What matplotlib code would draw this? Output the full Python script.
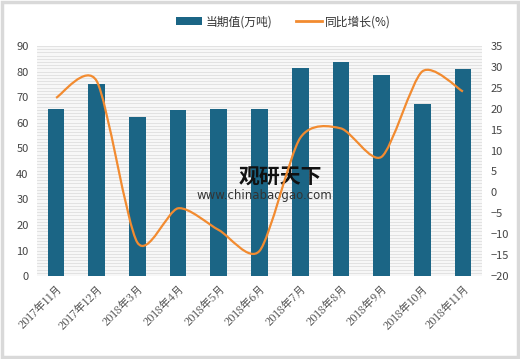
import matplotlib
matplotlib.use("Agg")
import matplotlib.pyplot as plt
from matplotlib.path import Path
from matplotlib.patches import PathPatch, Rectangle, Patch
from matplotlib.lines import Line2D
import numpy as np

plt.rcParams['font.family'] = ['Noto Sans CJK SC', 'DejaVu Sans']

categories = ["2017年11月", "2017年12月", "2018年3月", "2018年4月", "2018年5月", "2018年6月",
              "2018年7月", "2018年8月", "2018年9月", "2018年10月", "2018年11月"]
volume = [65.2, 75.1, 62.3, 64.8, 65.2, 65.2, 81.3, 83.8, 78.5, 67.3, 80.9]
growth = [22.6, 26.6, -12.0, -3.8, -9.0, -14.0, 13.0, 15.3, 8.5, 28.9, 24.1]
left_ticks = list(range(0, 91, 10))
right_ticks = list(range(-20, 36, 5))

bar_color = "#1b6585"
line_color = "#f28b30"
text_color = "#444444"

fig = plt.figure(figsize=(5.2, 3.59), dpi=100)
fig.patches.append(Rectangle((0.004, 0.006), 0.992, 0.988, transform=fig.transFigure,
                             facecolor="none", edgecolor="#d9d9d9", lw=2.5))
ax = fig.add_axes([0.071, 0.231, 0.856, 0.641])
ax2 = ax.twinx()

x = np.arange(len(categories))
ax.bar(x, volume, width=0.41, color=bar_color, zorder=3)
ax.set_xlim(-0.47, len(categories) - 0.53)
ax.set_ylim(0, 90)
ax.set_yticks(left_ticks)
ax.set_xticks(x)
ax.set_xticklabels(categories, rotation=45, ha="right", rotation_mode="anchor",
                   fontsize=8.5, color=text_color, family=['Noto Serif CJK SC', 'Noto Sans CJK SC', 'DejaVu Serif'])
ax.tick_params(axis="both", length=0, colors=text_color, labelsize=8)
ax.tick_params(axis="x", pad=5)
ax.tick_params(axis="y", pad=6)
for s in ax.spines.values():
    s.set_visible(False)
ax.set_facecolor("#f7f7f7")
for yv in np.arange(0.0, 90.1, 1.25):
    ax.axhline(yv, color="#dedede", lw=0.6, zorder=1)

ax2.set_ylim(-20, 35)
ax2.set_yticks(right_ticks)
ax2.set_yticklabels([str(t).replace('-', '\u2212') for t in right_ticks])
ax2.tick_params(axis="y", length=0, colors=text_color, labelsize=8, pad=6)
for s in ax2.spines.values():
    s.set_visible(False)

# smooth curve through the data points (Catmull-Rom as cubic Bezier)
px = np.array(x, dtype=float)
py = np.array(growth, dtype=float)
verts = [(px[0], py[0])]
codes = [Path.MOVETO]
n = len(px)
for i in range(n - 1):
    p0 = (px[max(i - 1, 0)], py[max(i - 1, 0)])
    p1 = (px[i], py[i])
    p2 = (px[i + 1], py[i + 1])
    p3 = (px[min(i + 2, n - 1)], py[min(i + 2, n - 1)])
    t = 0.13
    c1 = (p1[0] + (p2[0] - p0[0]) * t, p1[1] + (p2[1] - p0[1]) * t)
    c2 = (p2[0] - (p3[0] - p1[0]) * t, p2[1] - (p3[1] - p1[1]) * t)
    verts += [c1, c2, p2]
    codes += [Path.CURVE4] * 3
ax2.add_patch(PathPatch(Path(verts, codes), facecolor="none", edgecolor=line_color, lw=1.6, zorder=5))

# watermark
ax.text(0.546, 0.43, "观研天下", transform=ax.transAxes, fontsize=15, fontweight="bold",
        color="#111111", ha="center", va="center", zorder=6)
ax.text(0.51, 0.35, "www.chinabaogao.com", transform=ax.transAxes, fontsize=8.5,
        color="#333333", ha="center", va="center", zorder=6, family="DejaVu Sans")

handles = [Patch(facecolor=bar_color, edgecolor="none"), Line2D([0], [0], color=line_color, lw=2)]
fig.legend(handles, ["当期值(万吨)", "同比增长(%)"], loc="center", bbox_to_anchor=(0.545, 0.94),
           ncol=2, frameon=False, fontsize=8.5, handlelength=2.2, handleheight=0.6,
           columnspacing=2.0, handletextpad=0.3, labelcolor="#333333")

fig.savefig("out.png", dpi=100, facecolor="white")
